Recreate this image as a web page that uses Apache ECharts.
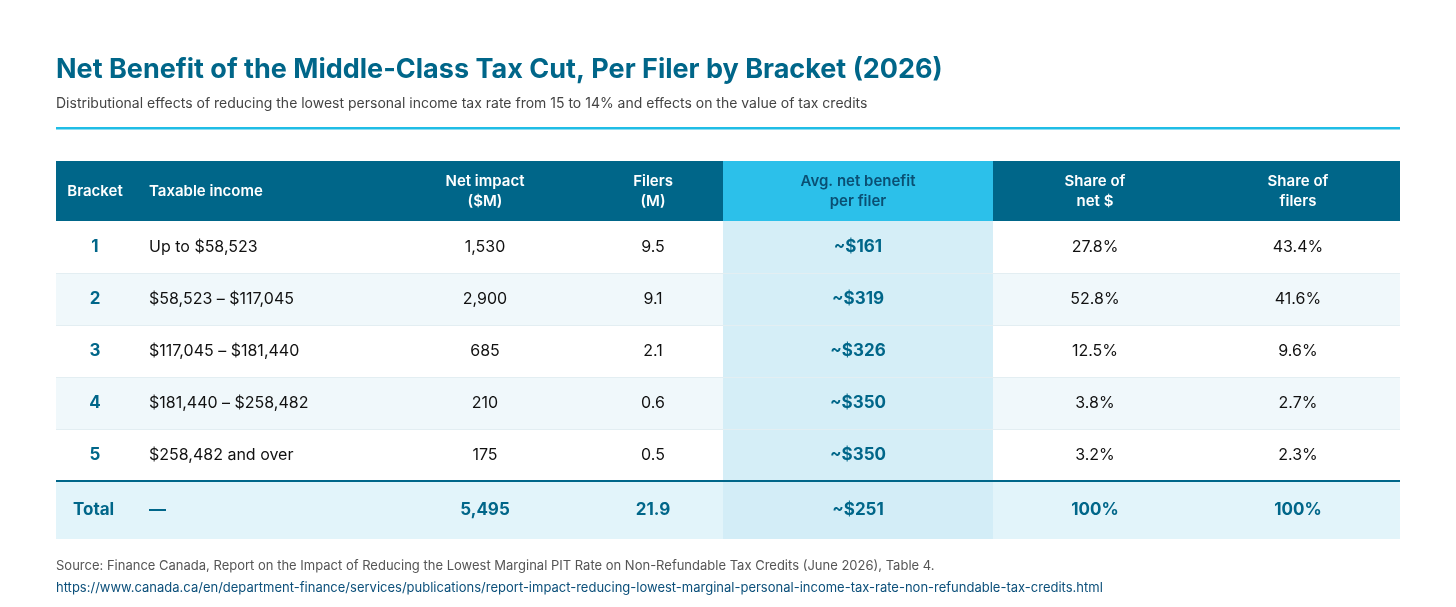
<!DOCTYPE html>
<html><head><meta charset="utf-8">
<script src="https://cdn.jsdelivr.net/npm/echarts@6/dist/echarts.min.js"></script>
<style>html,body{margin:0;background:#fff}#c{width:1456px;height:607px}</style>
</head><body><div id="c"></div>
<script>
const headers = ['Bracket', 'Taxable income', 'Net impact\n($M)', 'Filers\n(M)', 'Avg. net benefit\nper filer', 'Share of\nnet $', 'Share of\nfilers'];
const brackets = ['1', '2', '3', '4', '5'];
const incomes = ['Up to $58,523', '$58,523 – $117,045', '$117,045 – $181,440', '$181,440 – $258,482', '$258,482 and over'];
const netImpact = ['1,530', '2,900', '685', '210', '175'];
const filers = ['9.5', '9.1', '2.1', '0.6', '0.5'];
const avgBenefit = ['~$161', '~$319', '~$326', '~$350', '~$350'];
const shareNet = ['27.8%', '52.8%', '12.5%', '3.8%', '3.2%'];
const shareFilers = ['43.4%', '41.6%', '9.6%', '2.7%', '2.3%'];
const totalRow = ['Total', '—', '5,495', '21.9', '~$251', '100%', '100%'];

const FONT = 'Inter, "Noto Sans", sans-serif';
const DARK = '#006689';
const X0 = 56, X1 = 1400;
// column boundaries
const colEdges = [56, 134, 400, 570, 583, 723, 993, 1198, 1400];
const colCenter = [95, 149, 485, 653, 858, 1095, 1298];
const colAlign = ['center', 'left', 'center', 'center', 'center', 'center', 'center'];
const HL0 = 723, HL1 = 993;
const HEAD_Y = 161, HEAD_H = 60, ROW_H = 52, TOTAL_H = 58;

const g = [];
function rect(x, y, w, h, fill) { g.push({type: 'rect', shape: {x, y, width: w, height: h}, style: {fill}}); }
function text(x, y, t, o) {
  g.push({type: 'text', x, y, style: Object.assign({text: t, font: '400 16px ' + FONT, fill: '#111', align: 'left', verticalAlign: 'middle'}, o)});
}

text(X0, 70, 'Net Benefit of the Middle-Class Tax Cut, Per Filer by Bracket (2026)', {font: '700 27px ' + FONT, fill: DARK});
text(X0, 104, 'Distributional effects of reducing the lowest personal income tax rate from 15 to 14% and effects on the value of tax credits', {font: '400 14px ' + FONT, fill: '#444'});
rect(X0, 127, X1 - X0, 2.5, '#1fbde6');

// header
rect(X0, HEAD_Y, X1 - X0, HEAD_H, DARK);
rect(HL0, HEAD_Y, HL1 - HL0, HEAD_H, '#2cc0ea');
headers.forEach((h, i) => {
  text(colCenter[i], HEAD_Y + HEAD_H / 2, h, {font: '600 15px ' + FONT, fill: i === 4 ? '#0a4f73' : '#fff', align: colAlign[i], lineHeight: 20});
});

const rows = brackets.map((b, r) => [b, incomes[r], netImpact[r], filers[r], avgBenefit[r], shareNet[r], shareFilers[r]]);
rows.forEach((row, r) => {
  const y = HEAD_Y + HEAD_H + r * ROW_H;
  rect(X0, y, X1 - X0, ROW_H, r % 2 ? '#f0f8fb' : '#ffffff');
  rect(HL0, y, HL1 - HL0, ROW_H, '#d5eef7');
  if (r > 0) rect(X0, y, X1 - X0, 1, '#e3eef2');
  row.forEach((v, i) => {
    const bold = i === 0 || i === 4;
    text(colCenter[i], y + ROW_H / 2, v, {align: colAlign[i], font: (bold ? '700 17px ' : '400 16px ') + FONT, fill: bold ? DARK : '#111'});
  });
});
const ty = HEAD_Y + HEAD_H + rows.length * ROW_H;
rect(X0, ty, X1 - X0, TOTAL_H, '#e2f4fa');
rect(HL0, ty, HL1 - HL0, TOTAL_H, '#d3edf7');
rect(X0, ty - 1, X1 - X0, 2, DARK);
totalRow.forEach((v, i) => {
  text(i === 0 ? X0 + 17 : colCenter[i], ty + TOTAL_H / 2, v, {align: i === 0 ? 'left' : colAlign[i], font: '700 17px ' + FONT, fill: DARK});
});

text(X0, 566, 'Source: Finance Canada, Report on the Impact of Reducing the Lowest Marginal PIT Rate on Non-Refundable Tax Credits (June 2026), Table 4.', {font: '400 13px ' + FONT, fill: '#555'});
text(X0, 588, 'https://www.canada.ca/en/department-finance/services/publications/report-impact-reducing-lowest-marginal-personal-income-tax-rate-non-refundable-tax-credits.html', {font: '400 13px ' + FONT, fill: '#0b4f7a'});

const chart = echarts.init(document.getElementById('c'));
chart.setOption({animation: false, graphic: g});
</script></body></html>
